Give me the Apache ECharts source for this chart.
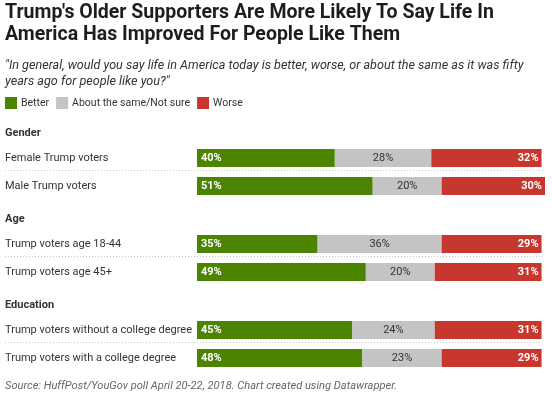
<!DOCTYPE html>
<html>
<head>
<meta charset="utf-8">
<script src="https://cdn.jsdelivr.net/npm/echarts@6/dist/echarts.min.js"></script>
<style>
html,body{margin:0;padding:0;background:#fff;}
#c{width:552px;height:396px;}
</style>
</head>
<body>
<div id="c"></div>
<script>
const groupNames = ['Gender', 'Age', 'Education'];
const rowLabels = [
  ['Female Trump voters', 'Male Trump voters'],
  ['Trump voters age 18-44', 'Trump voters age 45+'],
  ['Trump voters without a college degree', 'Trump voters with a college degree']
];
const seriesNames = ['Better', 'About the same/Not sure', 'Worse'];
const better = [[40, 51], [35, 49], [45, 48]];
const same = [[28, 20], [36, 20], [24, 23]];
const worse = [[32, 30], [29, 31], [31, 29]];

const colors = ['#4b8500', '#c4c4c4', '#c8372d'];
const FONT = 'Roboto';
const gridTops = [144, 230, 316];
const rowH = 28;

const chart = echarts.init(document.getElementById('c'), null, {renderer: 'canvas'});

const grids = [], xAxes = [], yAxes = [], series = [], graphics = [];
const titles = [
  {text: "Trump's Older Supporters Are More Likely To Say Life In\nAmerica Has Improved For People Like Them",
   left: 5, top: 2, padding: 0,
   textStyle: {fontFamily: FONT, fontSize: 19.5, fontWeight: 'bold', color: '#1d1d1d', lineHeight: 22}},
  {text: '"In general, would you say life in America today is better, worse, or about the same as it was fifty\nyears ago for people like you?"',
   left: 5, top: 58, padding: 0,
   textStyle: {fontFamily: FONT, fontSize: 12.6, fontStyle: 'italic', fontWeight: 'normal', color: '#333', lineHeight: 16}},
  {text: 'Source: HuffPost/YouGov poll April 20-22, 2018. Chart created using Datawrapper.',
   left: 5, top: 381, padding: 0,
   textStyle: {fontFamily: FONT, fontSize: 11.1, fontStyle: 'italic', fontWeight: 'normal', color: '#666'}}
];

const dataSets = [better, same, worse];
groupNames.forEach((g, gi) => {
  titles.push({text: g, left: 5, top: gridTops[gi] - 16, padding: 0,
    textStyle: {fontFamily: FONT, fontSize: 11, fontWeight: 'bold', color: '#333'}});
  grids.push({left: 197, width: 348, top: gridTops[gi], height: rowH * 2,
    containLabel: false, outerBoundsMode: 'none'});
  xAxes.push({type: 'value', gridIndex: gi, min: 0, max: 101, show: false});
  yAxes.push({type: 'category', gridIndex: gi, inverse: true, data: rowLabels[gi],
    axisLine: {show: false}, axisTick: {show: false}, splitLine: {show: false},
    axisLabel: {align: 'left', margin: 192, fontFamily: FONT, fontSize: 11, color: '#333',
      overflow: 'none', hideOverlap: false}});
  seriesNames.forEach((sn, si) => {
    let label;
    if (si === 0) label = {show: true, position: 'insideLeft', distance: 4, color: '#fff', fontWeight: 'bold'};
    else if (si === 1) label = {show: true, position: 'inside', color: '#333', fontWeight: 'normal'};
    else label = {show: true, position: 'insideRight', distance: 3, color: '#fff', fontWeight: 'bold'};
    label.fontFamily = FONT; label.fontSize = 11;
    label.formatter = p => p.value + '%';
    series.push({
      name: sn, type: 'bar', stack: 'g' + gi, xAxisIndex: gi, yAxisIndex: gi,
      barWidth: 18, data: dataSets[si][gi], itemStyle: {color: colors[si]},
      label: label, silent: true, animation: false
    });
  });
  graphics.push({type: 'line', shape: {x1: 5, y1: gridTops[gi] + rowH - 1.5, x2: 545, y2: gridTops[gi] + rowH - 1.5},
    style: {stroke: '#c8c8c8', lineWidth: 1, lineDash: [1, 2]}});
});

chart.setOption({
  animation: false,
  backgroundColor: '#fff',
  title: titles,
  legend: {
    data: seriesNames, left: 5, top: 97, padding: 0, icon: 'rect', itemWidth: 12, itemHeight: 12,
    itemGap: 7, textStyle: {fontFamily: FONT, fontSize: 10.5, color: '#333', padding: [2, 0, 0, -1]},
    selectedMode: false
  },
  grid: grids, xAxis: xAxes, yAxis: yAxes, series: series, graphic: graphics
});
</script>
</body>
</html>
